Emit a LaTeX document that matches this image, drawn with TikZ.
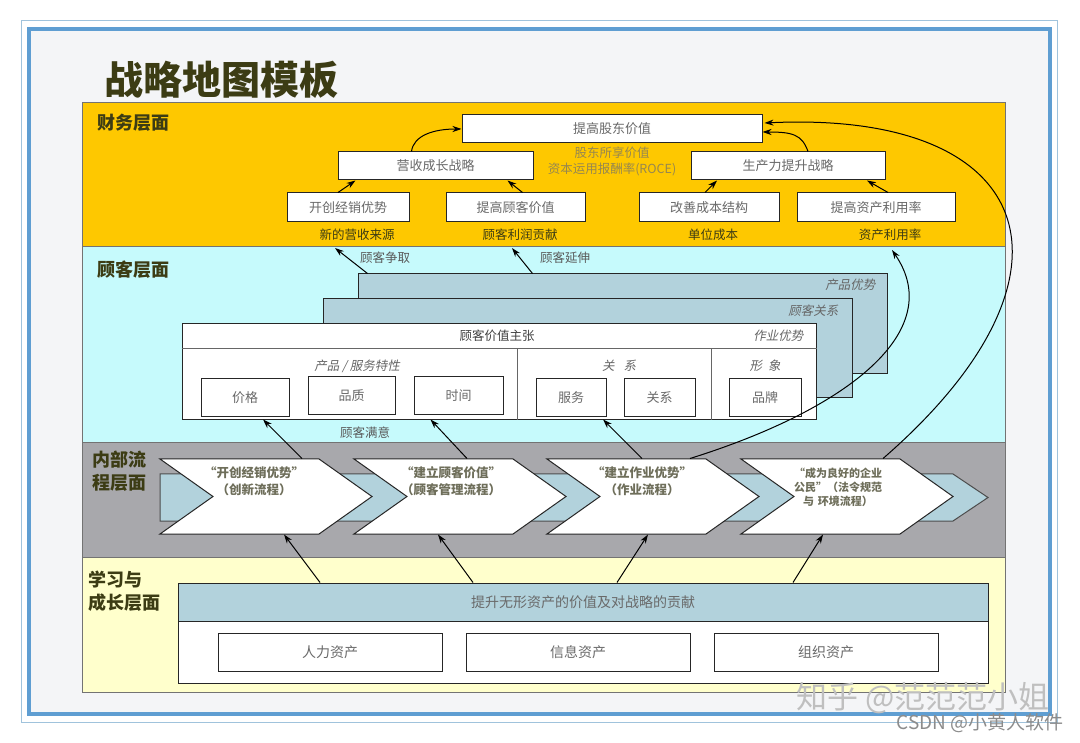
\documentclass[tikz,border=0pt]{standalone}
\usepackage{fontspec}
\setmainfont{Noto Sans CJK SC}
\newfontfamily\cjkslant[FakeSlant=0.2]{Noto Sans CJK SC}
\usetikzlibrary{shapes.symbols, arrows.meta, positioning}

\definecolor{finyellow}{RGB}{254,200,0}
\definecolor{cuscyan}{RGB}{198,250,252}
\definecolor{procgray}{RGB}{168,168,172}
\definecolor{learnyellow}{RGB}{255,255,204}
\definecolor{steel}{RGB}{178,210,220}
\definecolor{boxtext}{RGB}{105,105,105}
\definecolor{olive}{RGB}{60,60,20}
\definecolor{framebg}{RGB}{244,245,247}
\definecolor{frameblue}{RGB}{95,158,210}
\definecolor{framelight}{RGB}{160,195,220}
\definecolor{roce}{RGB}{150,135,80}
\definecolor{chevtext}{RGB}{110,110,90}

\begin{document}
\begin{tikzpicture}[x=1pt, y=-1pt,
      % Define compact styles
      layer/.style={rectangle, draw=black!55, line width=0.8pt, fill=#1, minimum width=923pt, anchor=north west, inner sep=0pt},
      layername/.style={anchor=west, align=left, inner sep=0pt, text=olive, font=\bfseries\fontsize{18}{23}\selectfont},
      finbox/.style={rectangle, draw=black!85, line width=1pt, fill=white, minimum height=28pt, text=boxtext, font=\fontsize{13}{15}\selectfont},
      note/.style={inner sep=2pt, text=olive, font=\fontsize{12.5}{15}\selectfont},
      layerbox/.style={rectangle, draw=black!85, line width=1pt, fill=steel, minimum width=529pt, minimum height=100pt},
      attr/.style={rectangle, draw=black!85, line width=1pt, fill=white, minimum height=38pt, text=boxtext, font=\fontsize{13}{15}\selectfont},
      tag/.style={text=black!60, font=\cjkslant\fontsize{12.5}{15}\selectfont},
      chev/.style={signal, signal from=west, signal to=east, signal pointer angle=70.6, draw=black!85, line width=1pt, fill=white, minimum width=212pt, minimum height=75pt, inner sep=0pt},
      chevtxt/.style={align=center, text=chevtext, font=\bfseries\fontsize{12.5}{16.5}\selectfont},
      asset/.style={rectangle, draw=black!85, line width=1pt, fill=white, minimum width=224pt, minimum height=38pt, text=boxtext, font=\fontsize{14}{16}\selectfont},
      arrow/.style={-{Stealth[length=9pt,width=6pt]}, line width=1pt}
    ]

    \useasboundingbox (0,0) rectangle (1080,743);
    \fill[white] (0,0) rectangle (1080,743);
    \draw[framelight, line width=1pt] (21,21) rectangle (1057,722);
    \draw[frameblue, line width=4pt, fill=framebg] (29,29) rectangle (1050,714);

    \node[text=olive, font=\bfseries\fontsize{39}{44}\selectfont, anchor=west, inner sep=0pt] (title) at (104,80) {战略地图模板};

    % Layers
    \node[layer=finyellow, minimum height=144pt] (finlayer) at (82,102) {};
    \node[layer=cuscyan, minimum height=196pt] (cuslayer) at (82,246) {};
    \node[layer=procgray, minimum height=115pt] (proclayer) at (82,442) {};
    \node[layer=learnyellow, minimum height=135pt] (learnlayer) at (82,557) {};
    \node[layername] (finname) at (97,123) {财务层面};
    \node[layername] (cusname) at (97,270) {顾客层面};
    \node[layername] (procname) at (92,471) {内部流\\程层面};
    \node[layername] (learnname) at (88,591) {学习与\\成长层面};

    % Financial layer
    \node[finbox, minimum width=300pt] (shv) at (612,129) {提高股东价值};
    \node[finbox, minimum width=195pt] (rev) at (435.5,166) {营收成长战略};
    \node[finbox, minimum width=194pt] (prod) at (788,166) {生产力提升战略};
    \node[finbox, minimum width=122pt, minimum height=29pt] (mkt) at (348,207.5) {开创经销优势};
    \node[finbox, minimum width=139pt, minimum height=29pt] (cval) at (515.5,207.5) {提高顾客价值};
    \node[finbox, minimum width=140pt, minimum height=29pt] (cost) at (709,207.5) {改善成本结构};
    \node[finbox, minimum width=158pt, minimum height=29pt] (asset) at (876,207.5) {提高资产利用率};
    \node[note, text=roce, align=center, font=\fontsize{12.5}{16}\selectfont] (roce) at (612,161) {股东所享价值\\资本运用报酬率(ROCE)};
    \node[note] (newrev) at (357,235) {新的营收来源};
    \node[note] (profit) at (520,235) {顾客利润贡献};
    \node[note] (unitcost) at (713,235) {单位成本};
    \node[note] (util) at (890,235) {资产利用率};

    % Customer layer
    \node[layerbox] (prodadv) at (622.5,324) {};
    \node[tag, anchor=east] (prodadvtag) at (879,285) {产品优势};
    \node[layerbox, minimum height=99pt] (custrel) at (587.5,348.5) {};
    \node[tag, anchor=east] (custreltag) at (842,311) {顾客关系};
    \node[rectangle, draw=black!85, line width=1pt, fill=white, minimum width=634pt, minimum height=96pt] (vp) at (499,372) {};
    \draw[black!60, line width=1pt] ([yshift=-25pt]vp.north west) -- ([yshift=-25pt]vp.north east);
    \draw[black!60, line width=1pt] ([xshift=18pt,yshift=-25pt]vp.north) -- ([xshift=18pt]vp.south);
    \draw[black!60, line width=1pt] ([xshift=212pt,yshift=-25pt]vp.north) -- ([xshift=212pt]vp.south);
    \node[text=black!75, font=\fontsize{12.5}{15}\selectfont] (vphead) at (497,336) {顾客价值主张};
    \node[tag, anchor=east] (opadv) at (807,336) {作业优势};
    \node[tag] (feat) at (357,366) {产品 / 服务特性};
    \node[tag] (reltitle) at (619,366) {关\hspace{9pt}系};
    \node[tag] (image) at (765,366) {形\hspace{6pt}象};
    \node[attr, minimum width=88pt] (price) at (245,398) {价格};
    \node[attr, minimum width=87pt, right=18pt of price, yshift=2pt] (quality) {品质};
    \node[attr, minimum width=89pt, right=18pt of quality] (time) {时间};
    \node[attr, minimum width=70pt] (service) at (571,398) {服务};
    \node[attr, minimum width=71pt, right=17pt of service] (relation) {关系};
    \node[attr, minimum width=72pt] (brand) at (765,398) {品牌};
    \node[note, text=black!65] (satisf) at (365,433) {顾客满意};
    \node[note, text=black!65] (acquire) at (385,258) {顾客争取};
    \node[note, text=black!65] (extend) at (565,258) {顾客延伸};

    % Internal process layer
    \draw[black!70, line width=1pt, fill=steel] (160,474) -- (953,474) -- (988,497.5) -- (953,521) -- (160,521) -- cycle;
    \node[chev] (ch1) at (266,496.5) {};
    \node[chev] (ch2) at (460,496.5) {};
    \node[chev] (ch3) at (653,496.5) {};
    \node[chev] (ch4) at (847,496.5) {};
    \node[chevtxt] (ch1txt) at (254,481) {“开创经销优势”\\（创新流程）};
    \node[chevtxt] (ch2txt) at (451,481) {“建立顾客价值”\\（顾客管理流程）};
    \node[chevtxt] (ch3txt) at (642,481) {“建立作业优势”\\（作业流程）};
    \node[chevtxt, font=\bfseries\fontsize{11}{14}\selectfont] (ch4txt) at (838,487) {“成为良好的企业\\公民”（法令规范\\与\hspace{4pt}环境流程）};

    % Learning and growth layer
    \node[rectangle, draw=black!85, line width=1pt, fill=white, minimum width=810pt, minimum height=100pt] (lgbox) at (583,633) {};
    \node[rectangle, draw=black!85, line width=1pt, fill=steel, minimum width=810pt, minimum height=38pt, text=boxtext, font=\fontsize{14}{16}\selectfont, anchor=north] (intang) at (lgbox.north) {提升无形资产的价值及对战略的贡献};
    \node[asset] (human) at (330,652) {人力资产};
    \node[asset, right=23pt of human] (info) {信息资产};
    \node[asset, right=23pt of info] (org) {组织资产};

    \node[text=black!25, font=\fontsize{31}{33}\selectfont, anchor=east, inner sep=0pt] (zhihu) at (1050,698) {知乎 @范范范小姐};
    \node[text=black!45, font=\fontsize{19}{21}\selectfont, anchor=east, inner sep=0pt] (csdn) at (1064,723) {CSDN @小黄人软件};

    % Arrows
    \draw[arrow] ([xshift=-10pt]mkt.north) -- ([xshift=-80pt]rev.south);
    \draw[arrow] ([xshift=7pt]cval.north) -- ([xshift=72pt]rev.south);
    \draw[arrow] ([xshift=-4pt]cost.north) -- ([xshift=-71pt]prod.south);
    \draw[arrow] ([xshift=12pt]asset.north) -- ([xshift=79pt]prod.south);
    \draw[arrow] ([xshift=-24pt]rev.north) .. controls +(2,-16) and +(-28,0) .. (shv.west);
    \draw[arrow] ([xshift=20pt]prod.north) .. controls +(-6,-17) and +(30,0) .. ([yshift=-3pt]shv.east);
    \draw[arrow] ([xshift=10pt]prodadv.north west) -- ([xshift=-22pt,yshift=-5pt]newrev.south);
    \draw[arrow] ([xshift=175pt]prodadv.north west) -- ([xshift=-8pt,yshift=-5pt]profit.south);

    % Process flow
    \draw[arrow] ([xshift=36pt]ch1.north) -- ([xshift=18pt,yshift=-2pt]price.south);
    \draw[arrow] ([xshift=7pt]ch2.north) -- ([xshift=-28pt,yshift=-4pt]time.south);
    \draw[arrow] ([xshift=-11pt]ch3.north) -- ([xshift=32pt,yshift=-2pt]service.south);
    \draw[arrow] ([xshift=37pt]ch3.north) .. controls +(160,-50) and +(55,80) .. ([xshift=2pt,yshift=-7pt]util.south);
    \draw[arrow] ([xshift=36pt]ch4.north) .. controls +(212,-184) and +(274,-13) .. ([xshift=2pt,yshift=6pt]shv.east);
    \draw[arrow] ([xshift=-263pt]intang.north) -- ([xshift=18pt]ch1.south);
    \draw[arrow] ([xshift=-110pt]intang.north) -- ([xshift=-22pt]ch2.south);
    \draw[arrow] ([xshift=34pt]intang.north) -- ([xshift=-5pt]ch3.south);
    \draw[arrow] ([xshift=210pt]intang.north) -- ([xshift=-24pt]ch4.south);

  \end{tikzpicture}
\end{document}
